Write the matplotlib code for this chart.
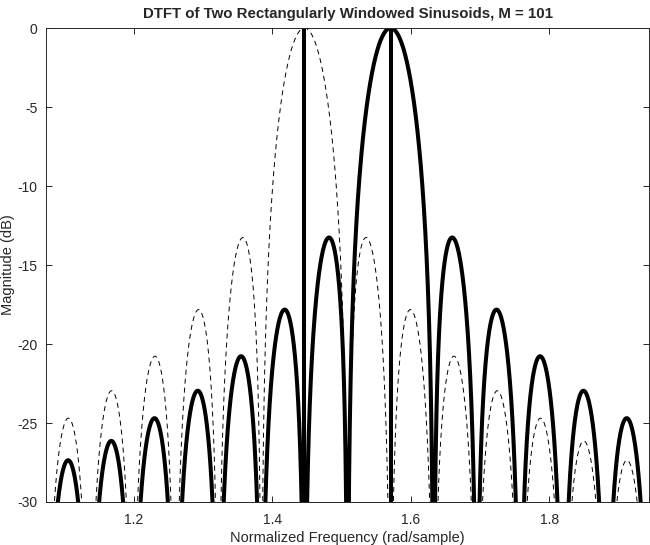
import numpy as np
import matplotlib
matplotlib.use('Agg')
import matplotlib.pyplot as plt

# window length and the two sinusoid frequencies (rad/sample)
M = 101
w_dashed = np.pi / 2 - 4 * np.pi / M
w_solid = np.pi / 2
x_range = [w_dashed - 6 * 2 * np.pi / M, w_solid + 6 * 2 * np.pi / M]
y_range = [-30, 0]
x_ticks = [1.2, 1.4, 1.6, 1.8]
y_ticks = [0, -5, -10, -15, -20, -25, -30]

plt.rcParams['font.family'] = ['Liberation Sans', 'DejaVu Sans']
plt.rcParams['axes.unicode_minus'] = False
plt.rcParams['lines.scale_dashes'] = False

ink = '#262626'


def dtft_db(w0, w):
    # DTFT of a rectangularly windowed complex sinusoid, normalised to 0 dB
    n = np.arange(M)
    x = np.exp(1j * w0 * n)
    X = np.exp(-1j * np.outer(w, n)) @ x
    return 20 * np.log10(np.abs(X) / M + 1e-12)


w = np.linspace(x_range[0], x_range[1], 6000)

fig = plt.figure(figsize=(6.5, 5.45), dpi=100)
ax = fig.add_axes([0.0708, 0.0789, 0.9277, 0.8697])

ax.plot(w, dtft_db(w_dashed, w), color='k', lw=0.7, dashes=(3.6, 2.9))
ax.plot(w, dtft_db(w_solid, w), color='k', lw=2.9)
for f in [w_dashed, w_solid]:
    ax.plot([f, f], y_range, color='k', lw=2.9)

ax.set_xlim(x_range)
ax.set_ylim(y_range)
ax.set_xticks(x_ticks)
ax.set_yticks(y_ticks)
ax.set_xticklabels([str(t) for t in x_ticks])
ax.set_yticklabels([str(t) for t in y_ticks])
ax.tick_params(direction='in', length=4.3, width=0.7, top=True, right=True,
               labelsize=10, colors=ink)
ax.tick_params(axis='x', pad=8)
ax.tick_params(axis='y', pad=6)
for s in ax.spines.values():
    s.set_linewidth(0.7)
    s.set_color(ink)

ax.set_title('DTFT of Two Rectangularly Windowed Sinusoids, M = 101',
             fontsize=10.8, fontweight='bold', color=ink, pad=7)
ax.set_xlabel('Normalized Frequency (rad/sample)', fontsize=10.5, color=ink, labelpad=3)
ax.set_ylabel('Magnitude (dB)', fontsize=10.5, color=ink, labelpad=2)

fig.savefig('out.png', dpi=100)
